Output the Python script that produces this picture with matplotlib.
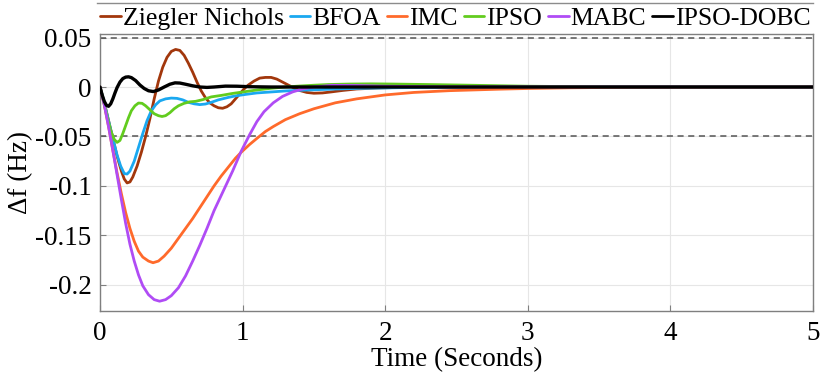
import matplotlib
matplotlib.use("Agg")
import matplotlib.pyplot as plt
from matplotlib.lines import Line2D

plt.rcParams['font.family'] = ['Liberation Serif', 'DejaVu Serif']
plt.rcParams['axes.unicode_minus'] = False

# ---------------- data ----------------
series_names = ["Ziegler Nichols", "BFOA", "IMC", "IPSO", "MABC", "IPSO-DOBC"]
series_colors = ["#A2370C", "#1AA8F0", "#FF6A2B", "#62CC1E", "#B04CF5", "#000000"]

t_zn = [0, 0.03, 0.06, 0.09, 0.12, 0.15, 0.17, 0.19, 0.21, 0.23, 0.26, 0.29, 0.32,
        0.35, 0.38, 0.41, 0.44, 0.47, 0.50, 0.53, 0.56, 0.59, 0.62, 0.65, 0.68,
        0.71, 0.74, 0.77, 0.80, 0.83, 0.86, 0.89, 0.92, 0.95, 0.98, 1.01, 1.04,
        1.08, 1.12, 1.16, 1.20, 1.24, 1.28, 1.32, 1.36, 1.40, 1.45, 1.50, 1.56,
        1.62, 1.70, 1.80, 1.95, 2.10, 2.40, 5.0]
v_zn = [0, -0.016, -0.034, -0.052, -0.070, -0.085, -0.093, -0.097, -0.096, -0.091,
        -0.080, -0.066, -0.050, -0.032, -0.012, 0.006, 0.020, 0.030, 0.036, 0.038,
        0.037, 0.032, 0.024, 0.015, 0.005, -0.004, -0.011, -0.016, -0.019, -0.021,
        -0.0215, -0.020, -0.017, -0.012, -0.007, -0.002, 0.002, 0.006, 0.009,
        0.0097, 0.0097, 0.008, 0.005, 0.002, -0.001, -0.0035, -0.0055, -0.0063,
        -0.006, -0.005, -0.0035, -0.002, -0.001, -0.0004, 0, 0]

t_bfoa = [0, 0.03, 0.06, 0.09, 0.12, 0.145, 0.17, 0.19, 0.21, 0.24, 0.27, 0.30, 0.33,
          0.36, 0.39, 0.42, 0.46, 0.50, 0.54, 0.58, 0.62, 0.66, 0.70, 0.74, 0.78,
          0.83, 0.90, 0.95, 1.02, 1.10, 1.20, 1.30, 1.40, 1.60, 1.80, 2.10, 2.50, 5.0]
v_bfoa = [0, -0.016, -0.034, -0.052, -0.069, -0.080, -0.0875, -0.088, -0.085, -0.075,
          -0.061, -0.047, -0.034, -0.024, -0.018, -0.014, -0.012, -0.0112, -0.0115,
          -0.013, -0.0155, -0.017, -0.0178, -0.0172, -0.0155, -0.013, -0.0105, -0.009,
          -0.0075, -0.006, -0.005, -0.004, -0.0033, -0.0023, -0.0014, -0.0007,
          -0.0002, 0]

t_imc = [0, 0.03, 0.06, 0.09, 0.12, 0.15, 0.18, 0.21, 0.24, 0.27, 0.30, 0.34, 0.372,
         0.41, 0.45, 0.50, 0.55, 0.60, 0.65, 0.70, 0.75, 0.80, 0.85, 0.90, 0.95, 0.99,
         1.05, 1.10, 1.16, 1.215, 1.30, 1.40, 1.50, 1.65, 1.80, 2.00, 2.20, 2.45,
         2.80, 3.00, 3.30, 3.70, 5.0]
v_imc = [0, -0.018, -0.040, -0.064, -0.087, -0.108, -0.127, -0.143, -0.156, -0.166,
         -0.172, -0.176, -0.1777, -0.176, -0.171, -0.163, -0.153, -0.143, -0.133,
         -0.122, -0.111, -0.100, -0.090, -0.081, -0.072, -0.066, -0.058, -0.052,
         -0.045, -0.040, -0.033, -0.027, -0.022, -0.016, -0.012, -0.008, -0.0055,
         -0.0037, -0.0022, -0.0015, -0.0008, -0.0003, 0]

t_ipso = [0, 0.025, 0.05, 0.075, 0.10, 0.12, 0.14, 0.16, 0.18, 0.20, 0.22, 0.245,
          0.27, 0.295, 0.32, 0.35, 0.38, 0.41, 0.435, 0.46, 0.49, 0.52, 0.55, 0.59,
          0.63, 0.67, 0.72, 0.78, 0.85, 0.93, 1.017, 1.10, 1.20, 1.30, 1.40, 1.50,
          1.60, 1.75, 1.90, 2.05, 2.30, 2.60, 3.00, 3.50, 5.0]
v_ipso = [0, -0.014, -0.030, -0.044, -0.053, -0.056, -0.054, -0.047, -0.039, -0.031,
          -0.024, -0.019, -0.0162, -0.0165, -0.019, -0.023, -0.027, -0.029, -0.0298,
          -0.029, -0.026, -0.022, -0.019, -0.0165, -0.015, -0.0145, -0.0128, -0.010,
          -0.0085, -0.0065, -0.0047, -0.003, -0.0013, 0.0, 0.001, 0.0018, 0.0025,
          0.003, 0.0032, 0.003, 0.0025, 0.0018, 0.0008, 0.0002, 0]

t_mabc = [0, 0.03, 0.06, 0.09, 0.12, 0.15, 0.18, 0.21, 0.24, 0.27, 0.30, 0.34, 0.38,
          0.418, 0.46, 0.50, 0.55, 0.60, 0.65, 0.70, 0.75, 0.80, 0.865, 0.93, 0.99,
          1.05, 1.10, 1.15, 1.215, 1.28, 1.35, 1.42, 1.50, 1.63, 1.80, 2.00, 2.40, 5.0]
v_mabc = [0, -0.018, -0.040, -0.064, -0.089, -0.114, -0.138, -0.159, -0.176, -0.190,
          -0.201, -0.210, -0.215, -0.2166, -0.215, -0.211, -0.203, -0.191, -0.176,
          -0.160, -0.143, -0.125, -0.105, -0.085, -0.065, -0.048, -0.035, -0.025,
          -0.016, -0.0095, -0.005, -0.002, 0.0, 0.0017, 0.0015, 0.0008, 0.0002, 0]

t_dobc = [0, 0.015, 0.03, 0.045, 0.06, 0.075, 0.09, 0.105, 0.12, 0.14, 0.16, 0.18,
          0.20, 0.22, 0.25, 0.28, 0.31, 0.34, 0.374, 0.41, 0.45, 0.49, 0.526, 0.56,
          0.60, 0.65, 0.70, 0.75, 0.80, 0.88, 0.96, 1.05, 1.20, 5.0]
v_dobc = [0, -0.008, -0.0145, -0.0185, -0.0195, -0.017, -0.012, -0.006, -0.0005,
          0.005, 0.0085, 0.010, 0.0103, 0.0095, 0.0065, 0.002, -0.0015, -0.0038,
          -0.0046, -0.003, 0.0, 0.0028, 0.0042, 0.004, 0.0028, 0.0012, 0.0, -0.0004,
          0.0, 0.0009, 0.0008, 0.0003, 0, 0]

limit_lines = [0.05, -0.05]
xtick_vals = [0, 1, 2, 3, 4, 5]
ytick_vals = [0.05, 0, -0.05, -0.1, -0.15, -0.2]
ytick_labels = ["0.05", "0", "-0.05", "-0.1", "-0.15", "-0.2"]

# ---------------- figure ----------------
fig = plt.figure(figsize=(8.3, 3.8), dpi=100)
ax = fig.add_axes([100 / 830, 1 - 311 / 380, 713 / 830, 277 / 380])

ts = [t_zn, t_bfoa, t_imc, t_ipso, t_mabc, t_dobc]
vs = [v_zn, v_bfoa, v_imc, v_ipso, v_mabc, v_dobc]
for i, (t, v) in enumerate(zip(ts, vs)):
    lw = 2.4 if series_names[i] == "IPSO-DOBC" else 2.0
    ax.plot(t, v, color=series_colors[i], lw=lw, label=series_names[i],
            solid_joinstyle='round', solid_capstyle='round', zorder=3 + i)

for y in limit_lines:
    ax.axhline(y, color="#555555", lw=1.1, ls=(0, (4, 3)), zorder=2)

ax.set_xlim(0, 5)
ax.set_ylim(-0.2265, 0.0536)
ax.set_xticks(xtick_vals)
ax.set_xticklabels([str(v) for v in xtick_vals])
ax.set_yticks(ytick_vals)
ax.set_yticklabels(ytick_labels)
ax.grid(True, color="#e6e6e6", lw=0.8, zorder=0)
ax.set_axisbelow(True)
for s in ax.spines.values():
    s.set_color("#7f7f7f")
    s.set_linewidth(1.0)
ax.tick_params(direction='in', length=4, color="#7f7f7f", labelsize=19.5,
               pad=6)
ax.tick_params(axis='x', pad=7)

ax.set_xlabel("Time (Seconds)", fontsize=19.5, labelpad=1)
ax.set_ylabel("Δf (Hz)", fontsize=19.5, labelpad=2)

leg = ax.legend(loc='lower left', bbox_to_anchor=(-0.005, 1.0), ncol=6,
                frameon=False, fontsize=18.5, handlelength=0.8,
                handletextpad=0.07, columnspacing=0.24, borderpad=0.0,
                borderaxespad=0.15)
for h in leg.get_lines():
    h.set_linewidth(2.0)

fig.add_artist(Line2D([97 / 830, 813 / 830], [1 - 2.5 / 380, 1 - 2.5 / 380],
                      color="#8c8c8c", lw=1.0))

fig.savefig("out.png", dpi=100)
